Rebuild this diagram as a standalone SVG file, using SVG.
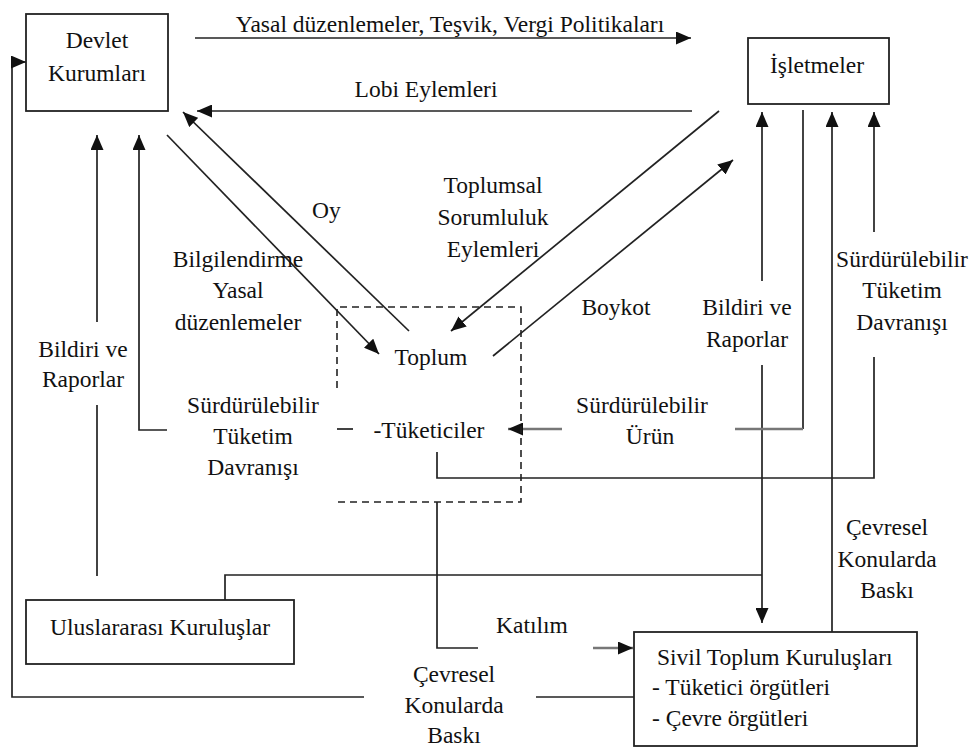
<svg xmlns="http://www.w3.org/2000/svg" width="974" height="747" viewBox="0 0 974 747">
<defs>
<marker id="ah" markerUnits="userSpaceOnUse" markerWidth="16" markerHeight="13" refX="15" refY="6.5" orient="auto">
<path d="M0,0 L15,6.5 L0,13 z" fill="#111"/>
</marker>
<style>
text{font-size:23.5px;fill:#111}
.c{text-anchor:middle}
.box{fill:#fff;stroke:#222;stroke-width:1.8}
.ln{fill:none;stroke:#222;stroke-width:1.7}
.gr{fill:none;stroke:#777;stroke-width:2.4}
.dash{fill:none;stroke:#222;stroke-width:1.6;stroke-dasharray:7 5}
</style>
</defs>
<rect width="974" height="747" fill="#fff"/>

<g id="connectors">
<path class="ln" d="M195,38 H691" marker-end="url(#ah)"/>
<path class="ln" d="M692,111 H197" marker-end="url(#ah)"/>
<path class="ln" d="M167,135 L379,354" marker-end="url(#ah)"/>
<path class="ln" d="M409,331 L183,112" marker-end="url(#ah)"/>
<path class="ln" d="M719,111 L451,331" marker-end="url(#ah)"/>
<path class="ln" d="M493,356 L733,160" marker-end="url(#ah)"/>
<path class="ln" d="M97,576 V405"/>
<path class="ln" d="M97,322 V135" marker-end="url(#ah)"/>
<path class="ln" d="M353,429 H337"/>
<path class="ln" d="M167,430 H139 V135" marker-end="url(#ah)"/>
<path class="ln" d="M762,281 V112" marker-end="url(#ah)"/>
<path class="ln" d="M762,365 V623" marker-end="url(#ah)"/>
<path class="ln" d="M225,600 V575 H762"/>
<path class="ln" d="M803,110 V429"/>
<path class="gr" d="M803,429 H735"/>
<path class="gr" d="M562,429 H508" marker-end="url(#ah)"/>
<path class="ln" d="M832,632 V112" marker-end="url(#ah)"/>
<path class="ln" d="M874,232 V112" marker-end="url(#ah)"/>
<path class="ln" d="M874,357 V478 H437 V452"/>
<path class="ln" d="M437,502 V648 H478"/>
<path class="gr" d="M593,648 H633" marker-end="url(#ah)"/>
<path class="ln" d="M634,697 H536"/>
<path class="ln" d="M364,697 H12 V62 H26" marker-end="url(#ah)"/>
<path class="dash" d="M337,388 V307 H521 V502 H338"/>
</g>

<g font-family="Liberation Serif, Tinos, DejaVu Serif, Noto Serif, serif">
<g id="devlet">
<rect class="box" x="26" y="14" width="142" height="97"/>
<text class="c" x="97" y="48">Devlet</text>
<text class="c" x="97" y="81">Kurumları</text>
</g>

<g id="isletmeler">
<rect class="box" x="748" y="38" width="141" height="66"/>
<text class="c" x="817" y="73">İşletmeler</text>
</g>

<g id="uluslararasi">
<rect class="box" x="26" y="600" width="268" height="64"/>
<text class="c" x="160" y="635">Uluslararası Kuruluşlar</text>
</g>

<g id="sivil">
<rect class="box" x="634" y="632" width="283" height="114"/>
<text x="657" y="665">Sivil Toplum Kuruluşları</text>
<text x="652" y="695">- Tüketici örgütleri</text>
<text x="652" y="726">- Çevre örgütleri</text>
</g>

<g id="toplum">
<text class="c" x="431" y="365">Toplum</text>
<text class="c" x="429" y="438">-Tüketiciler</text>
</g>

<g id="labels">
<text class="c" x="450" y="32">Yasal düzenlemeler, Teşvik, Vergi Politikaları</text>
<text class="c" x="426" y="97">Lobi Eylemleri</text>
<text x="312" y="218">Oy</text>
<text class="c" x="493" y="193">Toplumsal</text>
<text class="c" x="493" y="225">Sorumluluk</text>
<text class="c" x="493" y="257">Eylemleri</text>
<text class="c" x="238" y="267">Bilgilendirme</text>
<text class="c" x="238" y="298">Yasal</text>
<text class="c" x="238" y="330">düzenlemeler</text>
<text class="c" x="83" y="357">Bildiri ve</text>
<text class="c" x="83" y="387">Raporlar</text>
<text class="c" x="253" y="413">Sürdürülebilir</text>
<text class="c" x="253" y="444">Tüketim</text>
<text class="c" x="253" y="475">Davranışı</text>
<text class="c" x="616" y="315">Boykot</text>
<text class="c" x="642" y="413">Sürdürülebilir</text>
<text class="c" x="650" y="444">Ürün</text>
<text class="c" x="747" y="315">Bildiri ve</text>
<text class="c" x="747" y="347">Raporlar</text>
<text class="c" x="902" y="267">Sürdürülebilir</text>
<text class="c" x="902" y="298">Tüketim</text>
<text class="c" x="902" y="330">Davranışı</text>
<text class="c" x="887" y="535">Çevresel</text>
<text class="c" x="887" y="567">Konularda</text>
<text class="c" x="887" y="598">Baskı</text>
<text class="c" x="532" y="633">Katılım</text>
<text class="c" x="454" y="682">Çevresel</text>
<text class="c" x="454" y="713">Konularda</text>
<text class="c" x="454" y="743">Baskı</text>
</g>
</g>
</svg>
